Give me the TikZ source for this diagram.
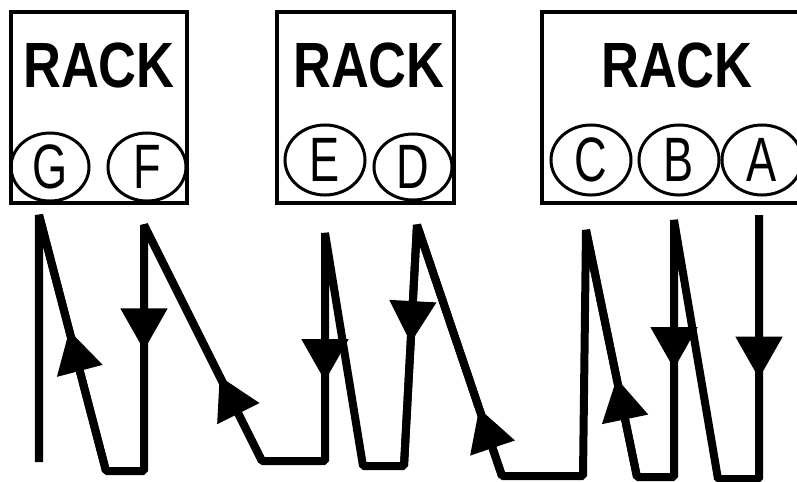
\documentclass[tikz,border=0pt]{standalone}
\usepackage{fontspec}
\usepackage{tikz}
\usetikzlibrary{shapes.geometric,arrows.meta,decorations.markings}
\newfontfamily\rackfont{Liberation Sans}[FakeStretch=0.82]
\newfontfamily\tagfont{Liberation Sans}[FakeStretch=0.72]

\begin{document}
\begin{tikzpicture}[x=0.025cm,y=-0.025cm]
\tikzset{rackbox/.style={draw,line width=0.1cm,inner sep=0pt,minimum height=4.775cm},
  racklabel/.style={font=\rackfont\bfseries\fontsize{45.5}{50}\selectfont,inner sep=0pt},
  slot/.style={draw,ellipse,line width=0.075cm,inner sep=0pt,minimum width=2cm,minimum height=1.75cm,
    font=\tagfont\fontsize{44.6}{48}\selectfont},
  route/.style={line width=0.2cm,line join=bevel},
  arrowat/.style={postaction={decorate},decoration={markings,
    mark=at position #1 with {\arrow{Triangle[width=1.125cm,length=1.05cm]}}}}}
\useasboundingbox (0,0) rectangle (797,481);
\clip (0,0) rectangle (797,481);
\node[rackbox,minimum width=4.4cm] (rack1) at (99,107.5) {};
\node[rackbox,minimum width=4.425cm] (rack2) at (365.5,107.5) {};
\node[rackbox,minimum width=6.75cm] (rack3) at (677,107.5) {};
\node[racklabel] (label1) at (99,65) {RACK};
\node[racklabel] (label2) at (369,65) {RACK};
\node[racklabel] (label3) at (677,65) {RACK};
\node[slot,minimum width=1.95cm,minimum height=1.7cm] (g) at (50,167) {G};
\node[slot,minimum width=1.95cm,minimum height=1.7cm] (f) at (147,167) {F};
\node[slot] (e) at (325,160) {E};
\node[slot,minimum width=1.95cm,minimum height=1.65cm] (d) at (413,167) {D};
\node[slot] (c) at (591,160) {C};
\node[slot] (b) at (679,160) {B};
\node[slot] (a) at (762,160) {A};
\coordinate (g0) at (39,462);
\coordinate (g1) at (39,215);
\coordinate (g2) at (106,471);
\coordinate (f1) at (144,471);
\coordinate (f2) at (144,225);
\coordinate (f3) at (262,461);
\coordinate (e1) at (325,461);
\coordinate (e2) at (325,233);
\coordinate (e3) at (363,466);
\coordinate (d1) at (404,466);
\coordinate (d2) at (417,225);
\coordinate (d3) at (502,476);
\coordinate (c1) at (583,476);
\coordinate (c2) at (586,230);
\coordinate (c3) at (637,477);
\coordinate (b1) at (674,477);
\coordinate (b2) at (674,220);
\coordinate (b3) at (718,479);
\coordinate (a1) at (759,479);
\coordinate (a2) at (759,215);
\draw[route] (g0) -- (g1) -- (g2) -- (f1) -- (f2) -- (f3) -- (e1) -- (e2) -- (e3) -- (d1) -- (d2)
  -- (d3) -- (c1) -- (c2) -- (c3) -- (b1) -- (b2) -- (b3) -- (a1) -- (a2);
\draw[route,arrowat=0.55] (g2) -- (g1);
\draw[route,arrowat=0.51] (f2) -- (f1);
\draw[route,arrowat=0.36] (f3) -- (f2);
\draw[route,arrowat=0.65] (e2) -- (e1);
\draw[route,arrowat=0.49] (d2) -- (d1);
\draw[route,arrowat=0.27] (d3) -- (d2);
\draw[route,arrowat=0.40] (c3) -- (c2);
\draw[route,arrowat=0.58] (b2) -- (b1);
\draw[route,arrowat=0.62] (a2) -- (a1);
\end{tikzpicture}
\end{document}
